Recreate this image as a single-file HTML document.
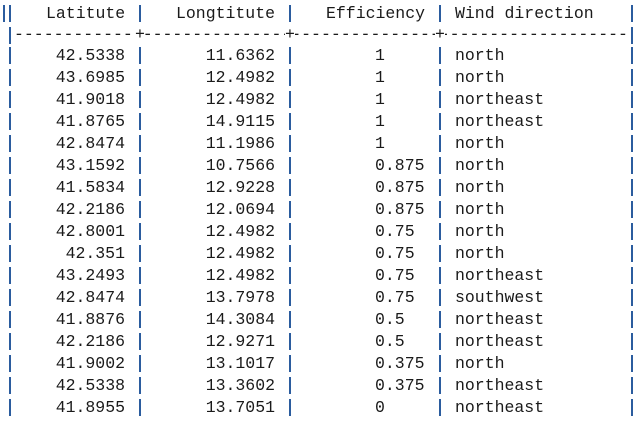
<!DOCTYPE html>
<html><head><meta charset="utf-8"><style>
body{margin:0;width:643px;height:426px;background:#fff;position:relative;overflow:hidden;font-family:"Liberation Mono",monospace;font-size:16.5px;color:#1a1a1a}
.t{position:absolute;line-height:22px;white-space:pre}
.r{text-align:right}
.p{position:absolute;width:2px;height:17px;background:#2b5c9e}
</style></head><body>
<div id="root"></div>
<script>
const lat=["42.5338","43.6985","41.9018","41.8765","42.8474","43.1592","41.5834","42.2186","42.8001","42.351","43.2493","42.8474","41.8876","42.2186","41.9002","42.5338","41.8955"];
const lon=["11.6362","12.4982","12.4982","14.9115","11.1986","10.7566","12.9228","12.0694","12.4982","12.4982","12.4982","13.7978","14.3084","12.9271","13.1017","13.3602","13.7051"];
const eff=["1","1","1","1","1","0.875","0.875","0.875","0.75","0.75","0.75","0.75","0.5","0.5","0.375","0.375","0"];
const wind=["north","north","northeast","northeast","north","north","north","north","north","north","northeast","southwest","northeast","northeast","north","northeast","northeast"];
const root=document.getElementById('root');
function txt(s,x,y,right,name){const d=document.createElement('div');d.className='t'+(right?' r':'');d.textContent=s;
d.style.top=(y-9)+'px';if(right){d.style.left=(x-200)+'px';d.style.width='200px';}else d.style.left=x+'px';


root.appendChild(d);}
function pipe(x,y){const d=document.createElement('div');d.className='p';d.style.left=x+'px';d.style.top=(y-7)+'px';


root.appendChild(d);}
const px=[9,139,289,439,631];
txt("Latitute",46,12,false,'header-latitude');
txt("Longtitute",176,12,false,'header-longitude');
txt("Efficiency",326,12,false,'header-efficiency');
txt("Wind direction",455,12,false,'header-wind-direction');
px.forEach(x=>pipe(x,12));pipe(3,12);
const sep=document.createElement('div');sep.className='t';sep.style.top='24px';sep.style.left='14px';sep.style.width='616px';sep.style.overflow='hidden';
let s='';for(let i=0;i<70;i++)s+='-';sep.textContent=s;


root.appendChild(sep);
[139,289,439].forEach(x=>{const d=document.createElement('div');d.className='t';d.textContent='+';d.style.left=(x-4)+'px';d.style.top='24px';d.style.background='#fff';


root.appendChild(d);});
pipe(9,34);pipe(631,34);
lat.forEach((v,i)=>{const y=54+i*22;
txt(v,125,y,true,'cell-latitude');
txt(lon[i],275,y,true,'cell-longitude');
txt(eff[i],375,y,false,'cell-efficiency');
txt(wind[i],455,y,false,'cell-wind-direction');
px.forEach(x=>pipe(x,y));});
</script>
</body></html>
